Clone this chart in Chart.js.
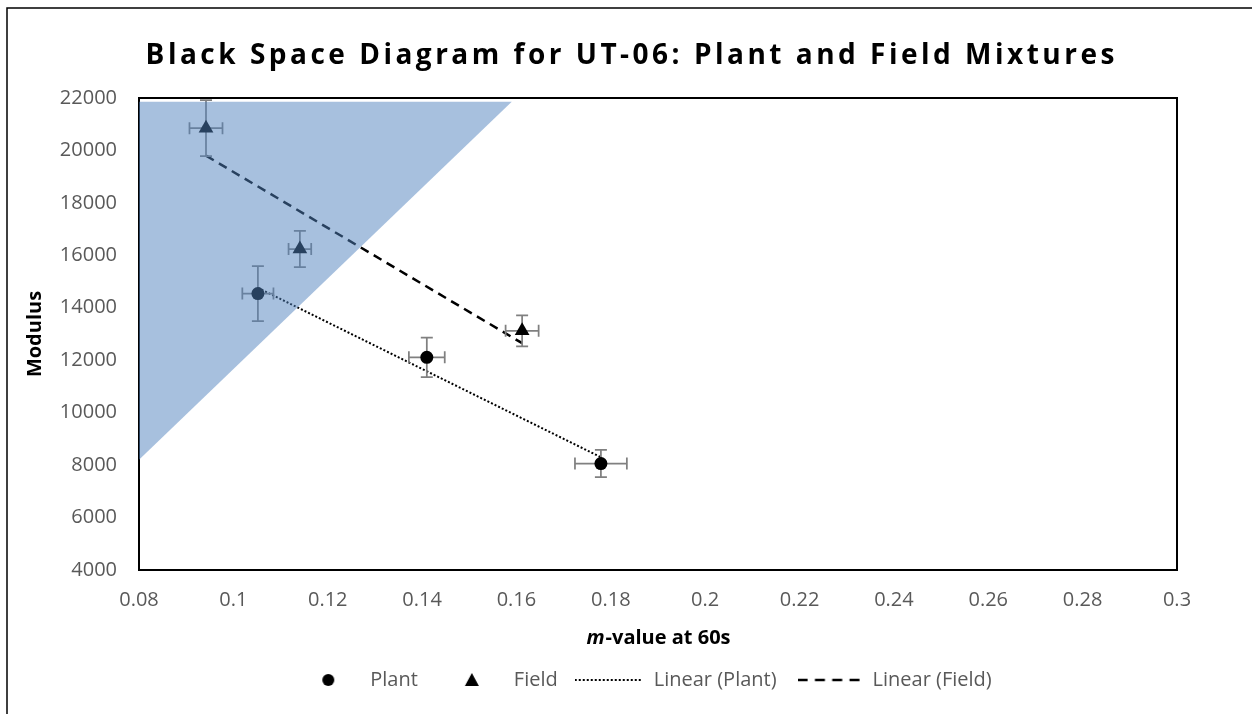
<!DOCTYPE html>
<html lang="en">
<head>
  <meta charset="UTF-8" />
  <title>Black Space Diagram for UT-06</title>
  <style>
    html, body { margin: 0; padding: 0; background: #fff; }
    #wrap { width: 1252px; height: 714px; }
  </style>
</head>
<body>
  <div id="wrap"><canvas id="chart"></canvas></div>

  <script src="https://cdn.jsdelivr.net/npm/chart.js"></script>
  <script>
    // values
    const plantX = [0.1052, 0.141, 0.1779];
    const plantY = [14540, 12110, 8060];
    const plantXErr = [0.0033, 0.0038, 0.0055];
    const plantYErr = [1050, 755, 520];

    const fieldX = [0.0942, 0.1141, 0.1612];
    const fieldY = [20850, 16240, 13120];
    const fieldXErr = [0.0035, 0.0024, 0.0035];
    const fieldYErr = [1070, 690, 590];

    // trend line end points
    const plantTrendX = [0.1052, 0.1779];
    const plantTrendY = [14760, 8300];
    const fieldTrendX = [0.0942, 0.1612];
    const fieldTrendY = [19800, 12650];

    // shaded black space zone corners
    const zoneX = [0.0796, 0.159, 0.0796];
    const zoneY = [21860, 21860, 8140];

    const xTickValues = [0.08, 0.1, 0.12, 0.14, 0.16, 0.18, 0.2, 0.22, 0.24, 0.26, 0.28, 0.3];
    const xTickLabels = ["0.08", "0.1", "0.12", "0.14", "0.16", "0.18", "0.2", "0.22", "0.24", "0.26", "0.28", "0.3"];
    const yTickValues = [4000, 6000, 8000, 10000, 12000, 14000, 16000, 18000, 20000, 22000];
    const yTickLabels = ["4000", "6000", "8000", "10000", "12000", "14000", "16000", "18000", "20000", "22000"];

    const chartTitle = "Black Space Diagram for UT-06: Plant and Field Mixtures";
    const legendNames = ["Plant", "Field", "Linear (Plant)", "Linear (Field)"];

    const toPoints = (xs, ys) => xs.map((v, i) => ({ x: v, y: ys[i] }));

    Chart.defaults.font.family = "'Open Sans', sans-serif";

    // little pictures for the legend keys
    function makeIcon(w, h, draw) {
      const c = document.createElement("canvas");
      c.width = w;
      c.height = h;
      draw(c.getContext("2d"));
      return c;
    }
    const legendIcons = [
      makeIcon(14, 14, g => { g.fillStyle = "#000"; g.beginPath(); g.arc(7, 7, 6, 0, Math.PI * 2); g.fill(); }),
      makeIcon(16, 16, g => { g.fillStyle = "#000"; g.beginPath(); g.moveTo(8, 1); g.lineTo(15, 14); g.lineTo(1, 14); g.closePath(); g.fill(); }),
      makeIcon(74, 6, g => { g.strokeStyle = "#000"; g.lineWidth = 2; g.setLineDash([2, 2]); g.beginPath(); g.moveTo(0, 3); g.lineTo(68, 3); g.stroke(); }),
      makeIcon(66, 6, g => { g.strokeStyle = "#000"; g.lineWidth = 2.5; g.setLineDash([10, 7.3]); g.beginPath(); g.moveTo(0, 3); g.lineTo(62, 3); g.stroke(); })
    ];

    const errorSets = {
      0: [plantX, plantY, plantXErr, plantYErr],
      1: [fieldX, fieldY, fieldXErr, fieldYErr]
    };

    const errorBars = {
      id: "errorBars",
      beforeDatasetDraw(chart, args) {
        const s = errorSets[args.index];
        if (!s) return;
        const { ctx, scales: { x, y } } = chart;
        const cap = 6;
        ctx.save();
        ctx.strokeStyle = "#808080";
        ctx.lineWidth = 1.75;
        s[0].forEach((xv, i) => {
          const yv = s[1][i];
          const px = x.getPixelForValue(xv), py = y.getPixelForValue(yv);
          const x0 = x.getPixelForValue(xv - s[2][i]), x1 = x.getPixelForValue(xv + s[2][i]);
          const y0 = y.getPixelForValue(yv + s[3][i]), y1 = y.getPixelForValue(yv - s[3][i]);
          ctx.beginPath();
          ctx.moveTo(x0, py); ctx.lineTo(x1, py);
          ctx.moveTo(x0, py - cap); ctx.lineTo(x0, py + cap);
          ctx.moveTo(x1, py - cap); ctx.lineTo(x1, py + cap);
          ctx.moveTo(px, y0); ctx.lineTo(px, y1);
          ctx.moveTo(px - cap, y0); ctx.lineTo(px + cap, y0);
          ctx.moveTo(px - cap, y1); ctx.lineTo(px + cap, y1);
          ctx.stroke();
        });
        ctx.restore();
      }
    };

    const frames = {
      id: "frames",
      afterLayout(chart) {
        // nudge the legend a little left, like the original
        const lg = chart.legend;
        if (lg) { lg.left -= 14; lg.right -= 14; }
      },
      beforeDraw(chart) {
        const ctx = chart.ctx;
        ctx.save();
        // outer chart frame (only left and top show)
        ctx.strokeStyle = "#000";
        ctx.lineWidth = 1.5;
        ctx.beginPath();
        ctx.moveTo(7, chart.height);
        ctx.lineTo(7, 8);
        ctx.lineTo(chart.width, 8);
        ctx.stroke();

        // spaced-out bold title
        ctx.font = "bold 28px 'Open Sans', sans-serif";
        ctx.fillStyle = "#000";
        ctx.textBaseline = "middle";
        ctx.textAlign = "left";
        const gap = 3.5;
        const chars = Array.from(chartTitle);
        const widths = chars.map(c => ctx.measureText(c).width);
        const total = widths.reduce((a, b) => a + b, 0) + gap * (chars.length - 1);
        let x = 630 - total / 2;
        chars.forEach((c, i) => {
          ctx.fillText(c, x, 56);
          x += widths[i] + gap;
        });
        ctx.restore();
      },
      beforeDatasetsDraw(chart) {
        const { ctx, chartArea: a } = chart;
        ctx.save();
        ctx.strokeStyle = "#000";
        ctx.lineWidth = 2;
        ctx.strokeRect(a.left, a.top, a.right - a.left, a.bottom - a.top);
        ctx.restore();
      },
      afterDraw(chart) {
        // x axis title with italic m
        const { ctx, chartArea: a } = chart;
        const ital = "italic bold 20px 'Open Sans', sans-serif";
        const bold = "bold 20px 'Open Sans', sans-serif";
        const rest = "-value at 60s";
        ctx.save();
        ctx.fillStyle = "#000";
        ctx.textBaseline = "middle";
        ctx.font = ital;
        const w1 = ctx.measureText("m").width;
        ctx.font = bold;
        const w2 = ctx.measureText(rest).width;
        const x = (a.left + a.right) / 2 - (w1 + w2) / 2;
        const y = a.bottom + 68;
        ctx.font = ital;
        ctx.fillText("m", x, y);
        ctx.font = bold;
        ctx.fillText(rest, x + w1 + 1, y);
        ctx.restore();
      }
    };

    new Chart(document.getElementById("chart"), {
      type: "scatter",
      data: {
        datasets: [
          {
            label: legendNames[0],
            data: toPoints(plantX, plantY),
            pointStyle: "circle",
            pointRadius: 6.5,
            backgroundColor: "#000",
            borderColor: "#000",
            borderWidth: 0
          },
          {
            label: legendNames[1],
            data: toPoints(fieldX, fieldY),
            pointStyle: "triangle",
            pointRadius: 8.5,
            backgroundColor: "#000",
            borderColor: "#000",
            borderWidth: 0
          },
          {
            label: legendNames[2],
            data: toPoints(plantTrendX, plantTrendY),
            showLine: true,
            borderColor: "#000",
            borderWidth: 2,
            borderDash: [2, 2],
            pointRadius: 0
          },
          {
            label: legendNames[3],
            data: toPoints(fieldTrendX, fieldTrendY),
            showLine: true,
            borderColor: "#000",
            borderWidth: 2.5,
            borderDash: [9, 6],
            pointRadius: 0
          },
          {
            label: "zone",
            data: toPoints(zoneX, zoneY),
            showLine: true,
            fill: "shape",
            backgroundColor: "rgba(79, 129, 189, 0.5)",
            borderColor: "rgba(0, 0, 0, 0)",
            borderWidth: 0,
            pointRadius: 0,
            order: -1
          }
        ]
      },
      options: {
        responsive: true,
        maintainAspectRatio: false,
        animation: false,
        events: [],
        layout: { padding: { left: 16, right: 75, top: 98, bottom: 14 } },
        scales: {
          x: {
            type: "linear",
            min: 0.08,
            max: 0.3,
            grid: { display: false },
            border: { display: false },
            afterBuildTicks: s => { s.ticks = xTickValues.map(v => ({ value: v })); },
            afterFit: s => { s.height = 78; },
            ticks: {
              color: "#595959",
              font: { size: 20 },
              padding: 10,
              maxRotation: 0,
              callback: (v, i) => xTickLabels[i]
            }
          },
          y: {
            min: 4000,
            max: 22000,
            grid: { display: false },
            border: { display: false },
            afterBuildTicks: s => { s.ticks = yTickValues.map(v => ({ value: v })); },
            afterFit: s => { s.width = 123; },
            ticks: {
              color: "#595959",
              font: { size: 20 },
              padding: 14,
              callback: (v, i) => yTickLabels[i]
            },
            title: {
              display: true,
              text: "Modulus",
              color: "#000",
              font: { size: 20, weight: "bold" },
              padding: { top: 7, bottom: 0 }
            }
          }
        },
        plugins: {
          title: { display: false },
          legend: {
            position: "bottom",
            fullSize: false,
            onClick: null,
            labels: {
              usePointStyle: true,
              pointStyleWidth: 64,
              padding: 22,
              color: "#595959",
              font: { size: 20 },
              generateLabels: () => legendNames.map((t, i) => ({
                text: t,
                pointStyle: legendIcons[i],
                fontColor: "#595959",
                fillStyle: "#000",
                strokeStyle: "#000",
                lineWidth: 0,
                hidden: false,
                datasetIndex: i
              }))
            }
          },
          tooltip: { enabled: false }
        }
      },
      plugins: [frames, errorBars]
    });
  </script>
</body>
</html>
